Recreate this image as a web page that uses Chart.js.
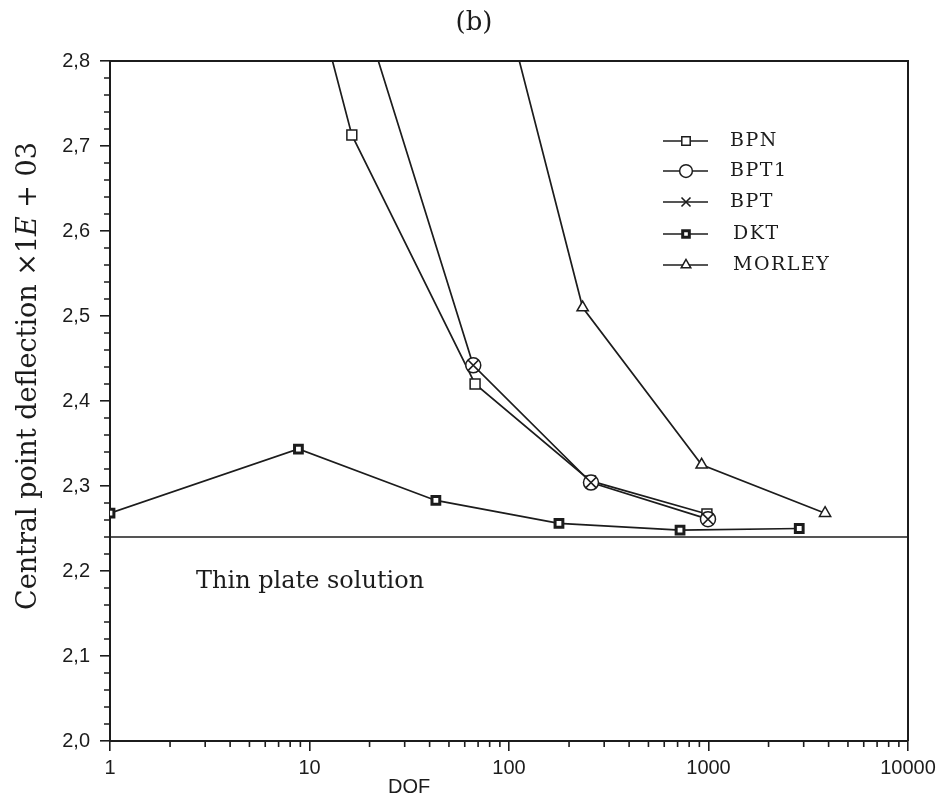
<!DOCTYPE html>
<html><head><meta charset="utf-8">
<script src="https://cdn.jsdelivr.net/npm/chart.js@4"></script>
<style>html,body{margin:0;padding:0;background:#fff;} canvas{display:block;}</style>
</head><body>
<canvas id="c" width="950" height="801"></canvas>
<script>
// ---- data ----
const xTicks = [1, 10, 100, 1000, 10000];
const yTicks = [2.0, 2.1, 2.2, 2.3, 2.4, 2.5, 2.6, 2.7, 2.8];
const seriesNames = ['BPN', 'BPT1', 'BPT', 'DKT', 'MORLEY'];
const dofBPN = [4, 16.3, 67.6, 256, 982];
const valBPN = [3.26, 2.713, 2.420, 2.306, 2.267];
const dofBPT1 = [16.3, 66.2, 257.6, 994];
const valBPT1 = [2.90, 2.442, 2.304, 2.261];
const dofBPT = [16.3, 66.2, 257.6, 994];
const valBPT = [2.90, 2.442, 2.304, 2.261];
const dofDKT = [1, 8.8, 43, 178, 720, 2850];
const valDKT = [2.268, 2.3435, 2.283, 2.256, 2.248, 2.250];
const dofMorley = [60, 234, 924, 3840];
const valMorley = [3.05, 2.51, 2.325, 2.268];
const thinPlateDof = [1, 10000];
const thinPlateVal = [2.24, 2.24];
const titleText = '(b)';
const xTitle = 'DOF';
const yTitleParts = ['Central point deflection \u00d71', 'E', ' + 03'];
const noteText = 'Thin plate solution';

const ink = '#1c1c1c';
const pts = (xs, ys) => xs.map((x, i) => ({x: x, y: ys[i]}));

const styles = [
  {pointStyle: 'rect', r: 7, bw: 1.5},
  {pointStyle: 'circle', r: 7.5, bw: 1.5},
  {pointStyle: 'crossRot', r: 7.5, bw: 1.6},
  {pointStyle: 'rect', r: 5.5, bw: 3},
  {pointStyle: 'triangle', r: 6.5, bw: 1.5}
];

function ds(i, xs, ys, order, extra) {
  const s = styles[i];
  return Object.assign({
    label: seriesNames[i], data: pts(xs, ys), borderColor: ink, borderWidth: 1.7,
    pointStyle: s.pointStyle, pointRadius: s.r, pointHoverRadius: s.r,
    pointBorderWidth: s.bw, pointBackgroundColor: '#fff', pointBorderColor: ink,
    tension: 0, order: order, fill: false
  }, extra || {});
}

function drawSym(ctx, style, x, y, r, bw) {
  ctx.save();
  ctx.lineWidth = bw; ctx.strokeStyle = ink; ctx.fillStyle = '#fff';
  ctx.beginPath();
  if (style === 'rect') {
    const h = r * Math.SQRT1_2; ctx.rect(x - h, y - h, 2 * h, 2 * h); ctx.fill(); ctx.stroke();
  } else if (style === 'circle') {
    ctx.arc(x, y, r, 0, Math.PI * 2); ctx.fill(); ctx.stroke();
  } else if (style === 'crossRot') {
    const o = r * Math.SQRT1_2;
    ctx.moveTo(x - o, y - o); ctx.lineTo(x + o, y + o);
    ctx.moveTo(x - o, y + o); ctx.lineTo(x + o, y - o); ctx.stroke();
  } else if (style === 'triangle') {
    ctx.moveTo(x, y - r); ctx.lineTo(x - r * 0.866, y + r * 0.5); ctx.lineTo(x + r * 0.866, y + r * 0.5);
    ctx.closePath(); ctx.fill(); ctx.stroke();
  }
  ctx.restore();
}

const deco = {
  id: 'deco',
  afterDraw(chart) {
    const ctx = chart.ctx, a = chart.chartArea;
    const xs = chart.scales.x, ys = chart.scales.y;
    ctx.save();
    ctx.strokeStyle = ink; ctx.lineWidth = 2;
    ctx.beginPath();
    ctx.moveTo(a.left, a.top); ctx.lineTo(a.right, a.top); ctx.lineTo(a.right, a.bottom);
    ctx.stroke();
    // minor ticks
    ctx.lineWidth = 1.6;
    ctx.beginPath();
    for (let k = 1; k < 40; k++) {
      if (k % 5 === 0) continue;
      const v = 2 + k * 0.02;
      const py = ys.getPixelForValue(v);
      ctx.moveTo(a.left - 6, py); ctx.lineTo(a.left, py);
    }
    for (let d = 1; d < 10000; d *= 10) {
      for (let m = 2; m <= 9; m++) {
        const px = xs.getPixelForValue(d * m);
        ctx.moveTo(px, a.bottom); ctx.lineTo(px, a.bottom + 6);
      }
    }
    ctx.stroke();
    // title
    ctx.fillStyle = ink;
    ctx.textAlign = 'center'; ctx.textBaseline = 'middle';
    ctx.font = '26px "DejaVu Serif"';
    ctx.fillText(titleText, 474, 23);
    // x title
    ctx.font = '20px "Liberation Sans"';
    ctx.fillText(xTitle, xs.getPixelForValue(31.6), 787);
    // note
    ctx.textAlign = 'left'; ctx.textBaseline = 'alphabetic';
    ctx.font = '24px "DejaVu Serif"';
    ctx.fillText(noteText, 196, 588);
    // y title
    ctx.save();
    ctx.translate(29, 376);
    ctx.rotate(-Math.PI / 2);
    const fonts = ['27px "DejaVu Serif"', 'italic 27px "DejaVu Serif"', '27px "DejaVu Serif"'];
    let total = 0; const ws = [];
    yTitleParts.forEach((t, i) => { ctx.font = fonts[i]; const w = ctx.measureText(t).width; ws.push(w); total += w; });
    let cx = -total / 2;
    ctx.textBaseline = 'middle';
    yTitleParts.forEach((t, i) => { ctx.font = fonts[i]; ctx.fillText(t, cx, 0); cx += ws[i]; });
    ctx.restore();
    // legend
    const rows = [141, 171, 202, 234, 265];
    ctx.font = '19px "DejaVu Serif"';
    try { ctx.letterSpacing = '1.5px'; } catch (e) {}
    ctx.textBaseline = 'middle';
    seriesNames.forEach((n, i) => {
      const y = rows[i];
      ctx.strokeStyle = ink; ctx.lineWidth = 1.6;
      ctx.beginPath(); ctx.moveTo(663, y); ctx.lineTo(708, y); ctx.stroke();
      const s = styles[i];
      drawSym(ctx, s.pointStyle, 686, y, s.r * 0.85, s.bw);
      ctx.fillStyle = ink;
      ctx.fillText(n, i >= 3 ? 733 : 730, y);
    });
    ctx.restore();
  }
};

new Chart(document.getElementById('c'), {
  type: 'line',
  data: {
    datasets: [
      ds(0, dofBPN, valBPN, 3),
      ds(1, dofBPT1, valBPT1, 2),
      ds(2, dofBPT, valBPT, 1, {showLine: false}),
      ds(3, dofDKT, valDKT, 4),
      ds(4, dofMorley, valMorley, 5),
      {label: 'Thin plate', data: pts(thinPlateDof, thinPlateVal), borderColor: ink, borderWidth: 1.7,
       pointRadius: 0, tension: 0, order: 6, fill: false}
    ]
  },
  options: {
    responsive: false, animation: false,
    layout: {padding: {left: 50, right: 42, top: 61, bottom: 20}},
    plugins: {legend: {display: false}, tooltip: {enabled: false}, title: {display: false}},
    scales: {
      x: {
        type: 'logarithmic', min: 1, max: 10000,
        afterBuildTicks: s => { s.ticks = xTicks.map(v => ({value: v, major: true})); },
        afterFit: s => { s.height = 40; },
        ticks: {callback: v => String(v), font: {family: 'Liberation Sans', size: 20}, color: ink,
                padding: 5, maxRotation: 0, autoSkip: false},
        grid: {display: true, drawOnChartArea: false, drawTicks: true, tickLength: 10, color: ink, lineWidth: 1.6},
        border: {display: true, color: ink, width: 2}
      },
      y: {
        type: 'linear', min: 2.0, max: 2.8,
        afterBuildTicks: s => { s.ticks = yTicks.map(v => ({value: v})); },
        afterFit: s => { s.width = 60; },
        ticks: {callback: v => Number(v).toFixed(1).replace('.', ','), font: {family: 'Liberation Sans', size: 20},
                color: ink, padding: 10},
        grid: {display: true, drawOnChartArea: false, drawTicks: true, tickLength: 10, color: ink, lineWidth: 1.6},
        border: {display: true, color: ink, width: 2}
      }
    }
  },
  plugins: [deco]
});
</script>
</body></html>
